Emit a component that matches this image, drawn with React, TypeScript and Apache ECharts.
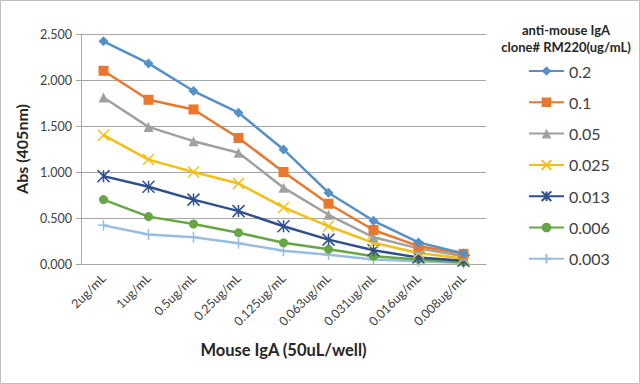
import React, { useEffect, useRef } from "react";
import * as echarts from "echarts";

const categories = ["2ug/mL", "1ug/mL", "0.5ug/mL", "0.25ug/mL", "0.125ug/mL", "0.063ug/mL", "0.031ug/mL", "0.016ug/mL", "0.008ug/mL"];
const seriesNames = ["0.2", "0.1", "0.05", "0.025", "0.013", "0.006", "0.003"];
const s02 = [2.42, 2.18, 1.88, 1.645, 1.245, 0.775, 0.47, 0.235, 0.115];
const s01 = [2.1, 1.785, 1.68, 1.37, 1.0, 0.655, 0.37, 0.195, 0.11];
const s005 = [1.81, 1.49, 1.335, 1.21, 0.83, 0.535, 0.29, 0.17, 0.085];
const s0025 = [1.4, 1.135, 1.0, 0.875, 0.615, 0.41, 0.23, 0.12, 0.06];
const s0013 = [0.955, 0.84, 0.7, 0.575, 0.41, 0.265, 0.15, 0.07, 0.035];
const s0006 = [0.7, 0.515, 0.435, 0.34, 0.23, 0.16, 0.085, 0.05, 0.02];
const s0003 = [0.42, 0.32, 0.29, 0.225, 0.145, 0.1, 0.05, 0.03, 0.012];
const yTicks = { min: 0, max: 2.5, interval: 0.5 };

const colors = ["#5590C8", "#E8782E", "#A0A0A0", "#F5BE14", "#2F4F8F", "#66A644", "#98BDE2"];
const symbols = [
  "diamond",
  "rect",
  "triangle",
  "path://M0,0L10,10M10,0L0,10",
  "path://M0,0L10,10M10,0L0,10M5,0L5,10",
  "circle",
  "path://M5,0L5,10M0,5L10,5",
];
const symbolSizes = [10, 10, 10, 11, 12, 9, 11];
const dataSets = [s02, s01, s005, s0025, s0013, s0006, s0003];

export default function App() {
  const ref = useRef<HTMLDivElement>(null);
  useEffect(() => {
    if (!ref.current) return;
    const chart = echarts.init(ref.current, null, { renderer: "svg" });
    const font = "Lato, 'Liberation Sans', sans-serif";
    chart.setOption({
      animation: false,
      textStyle: { fontFamily: font },
      grid: { left: 81, right: 154, top: 34, bottom: 120, containLabel: false },
      xAxis: {
        type: "category",
        data: categories,
        boundaryGap: true,
        axisLine: { lineStyle: { color: "#A6A6A6", width: 1 } },
        axisTick: { show: false },
        axisLabel: { rotate: 45, fontSize: 12.5, color: "#404040", margin: 12, fontFamily: font },
        name: "Mouse IgA (50uL/well)",
        nameLocation: "middle",
        nameGap: 77,
        nameTextStyle: { fontSize: 16.5, fontWeight: "bold", color: "#262626", fontFamily: font },
      },
      yAxis: {
        type: "value",
        min: yTicks.min,
        max: yTicks.max,
        interval: yTicks.interval,
        axisLine: { show: true, lineStyle: { color: "#A6A6A6", width: 1 } },
        axisTick: { show: true, length: 5, lineStyle: { color: "#A6A6A6" } },
        splitLine: { lineStyle: { color: "#A6A6A6", width: 1 } },
        axisLabel: {
          fontSize: 12.5,
          color: "#404040",
          margin: 9,
          fontFamily: font,
          formatter: (v: number) => v.toFixed(3),
        },
        name: "Abs (405nm)",
        nameLocation: "middle",
        nameGap: 40,
        nameTextStyle: { fontSize: 16, fontWeight: "bold", color: "#262626", fontFamily: font },
      },
      legend: {
        orient: "vertical",
        left: 523,
        top: 58,
        itemWidth: 35,
        itemHeight: 12,
        itemGap: 15.3,
        data: seriesNames,
        textStyle: { fontSize: 16, color: "#404040", fontFamily: font },
      },
      graphic: [
        {
          type: "rect",
          shape: { x: 0.5, y: 0.5, width: 639, height: 383 },
          style: { fill: "none", stroke: "#BFBFBF", lineWidth: 1 },
          silent: true,
        },
        {
          type: "text",
          x: 566,
          y: 21,
          style: {
            text: "anti-mouse IgA\nclone# RM220(ug/mL)",
            align: "center",
            fontSize: 13,
            lineHeight: 17,
            fontWeight: "bold",
            fill: "#262626",
            fontFamily: font,
          },
        },
      ],
      series: dataSets.map((d, i) => ({
        name: seriesNames[i],
        type: "line",
        data: d,
        symbol: symbols[i],
        symbolSize: symbolSizes[i],
        showSymbol: true,
        color: colors[i],
        lineStyle: { color: colors[i], width: 2.5 },
        itemStyle: { color: colors[i], borderColor: colors[i], borderWidth: i === 3 || i === 4 || i === 6 ? 1.5 : 0 },
        z: 10 - i,
      })),
    });
    return () => chart.dispose();
  }, []);
  return <div ref={ref} style={{ position: "fixed", left: 0, top: 0, width: 640, height: 384, background: "#fff" }} />;
}
